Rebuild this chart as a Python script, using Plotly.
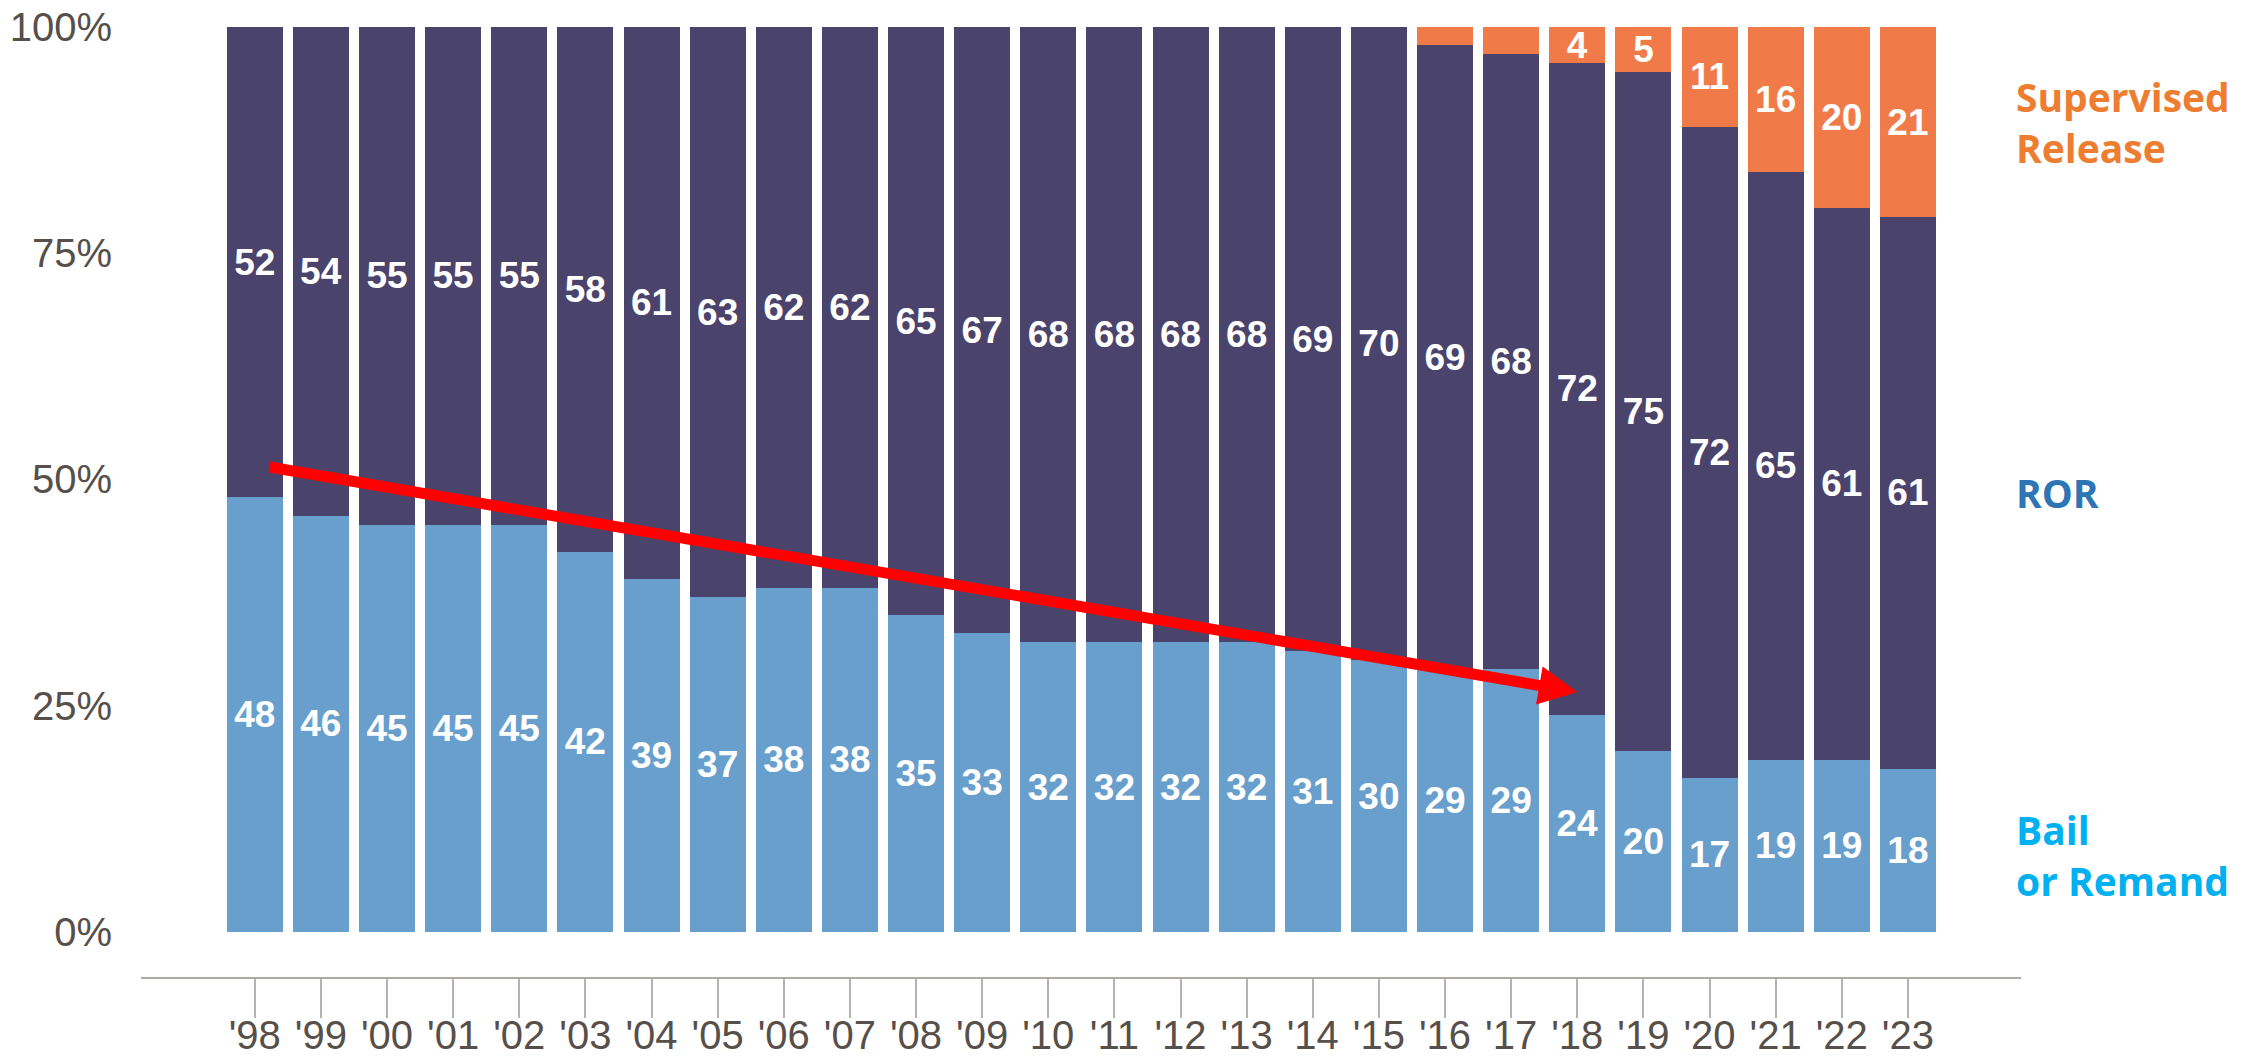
import plotly.graph_objects as go

years = ["'98", "'99", "'00", "'01", "'02", "'03", "'04", "'05", "'06", "'07", "'08", "'09",
         "'10", "'11", "'12", "'13", "'14", "'15", "'16", "'17", "'18", "'19", "'20", "'21",
         "'22", "'23"]
bail = [48, 46, 45, 45, 45, 42, 39, 37, 38, 38, 35, 33, 32, 32, 32, 32, 31, 30, 29, 29, 24, 20, 17, 19, 19, 18]
ror = [52, 54, 55, 55, 55, 58, 61, 63, 62, 62, 65, 67, 68, 68, 68, 68, 69, 70, 69, 68, 72, 75, 72, 65, 61, 61]
sup = [0, 0, 0, 0, 0, 0, 0, 0, 0, 0, 0, 0, 0, 0, 0, 0, 0, 0, 2, 3, 4, 5, 11, 16, 20, 21]
y_ticks = [0, 25, 50, 75, 100]
y_ticklabels = ["0%", "25%", "50%", "75%", "100%"]

# trend arrow (data coordinates: year index, percent)
arrow_start = (0.2, 51.4)
arrow_end = (20.0, 26.5)

C_BAIL = "#689FCC"
C_ROR = "#4A436C"
C_SUP = "#F07B48"

xs = list(range(len(years)))
label_font = dict(family="Arial, Liberation Sans", size=37, color="white", weight="bold")

fig = go.Figure()
fig.add_trace(go.Bar(x=xs, y=bail, marker=dict(color=C_BAIL, line=dict(width=0)),
                     text=[str(v) for v in bail], textposition="inside",
                     insidetextanchor="middle", textangle=0, textfont=label_font,
                     hoverinfo="skip"))
fig.add_trace(go.Bar(x=xs, y=ror, marker=dict(color=C_ROR, line=dict(width=0)),
                     text=[str(v) for v in ror], textposition="inside",
                     insidetextanchor="middle", textangle=0, textfont=label_font,
                     hoverinfo="skip"))
fig.add_trace(go.Bar(x=xs, y=sup, marker=dict(color=C_SUP, line=dict(width=0)),
                     text=[str(v) if v >= 4 else "" for v in sup], textposition="inside",
                     insidetextanchor="middle", textangle=0, textfont=label_font,
                     hoverinfo="skip"))

fig.add_annotation(x=arrow_end[0], y=arrow_end[1], ax=arrow_start[0], ay=arrow_start[1],
                   xref="x", yref="y", axref="x", ayref="y", text="", showarrow=True,
                   arrowhead=2, arrowsize=0.7, arrowwidth=11, arrowcolor="#FF0000")

# right-side series labels aligned to last bar segments
n = len(years) - 1
side_font = dict(family="Open Sans", size=39, weight="bold")
fig.add_annotation(x=0.9963, xref="paper", y=bail[n] + ror[n] + sup[n] / 2, yref="y",
                   text="Supervised<br>Release", showarrow=False, xanchor="left", align="left",
                   font=dict(**side_font, color="#ED7D31"))
fig.add_annotation(x=0.9963, xref="paper", y=bail[n] + ror[n] / 2, yref="y",
                   text="ROR", showarrow=False, xanchor="left", align="left",
                   font=dict(**side_font, color="#2E75B6"))
fig.add_annotation(x=0.9963, xref="paper", y=bail[n] / 2 - 0.5, yref="y",
                   text="Bail<br>or Remand", showarrow=False, xanchor="left", align="left",
                   font=dict(**side_font, color="#00B0F0"))

fig.update_layout(
    barmode="stack", bargap=0.153, showlegend=False,
    width=2256, height=1059,
    margin=dict(l=141, r=235, t=27, b=82, autoexpand=False),
    plot_bgcolor="white", paper_bgcolor="white",
    uniformtext=dict(mode="show", minsize=37),
    xaxis=dict(range=[-1.72, 26.71], tickmode="array", tickvals=xs, ticktext=years,
               automargin=False, ticklabelstandoff=-17,
               showgrid=False, zeroline=False, showline=True, linecolor="#B0AAA6", linewidth=1.5,
               ticks="outside", ticklen=39, tickcolor="#B8B2AE", tickwidth=1.5,
               tickfont=dict(family="Arial, Liberation Sans", size=40, color="#574F4A")),
    yaxis=dict(range=[-5, 100], tickmode="array", tickvals=y_ticks, ticktext=y_ticklabels,
               automargin=False,
               showgrid=False, zeroline=False, showline=False,
               ticks="outside", ticklen=20, tickcolor="rgba(0,0,0,0)",
               tickfont=dict(family="Arial, Liberation Sans", size=40, color="#574F4A")),
)

fig.write_html("out.html")
